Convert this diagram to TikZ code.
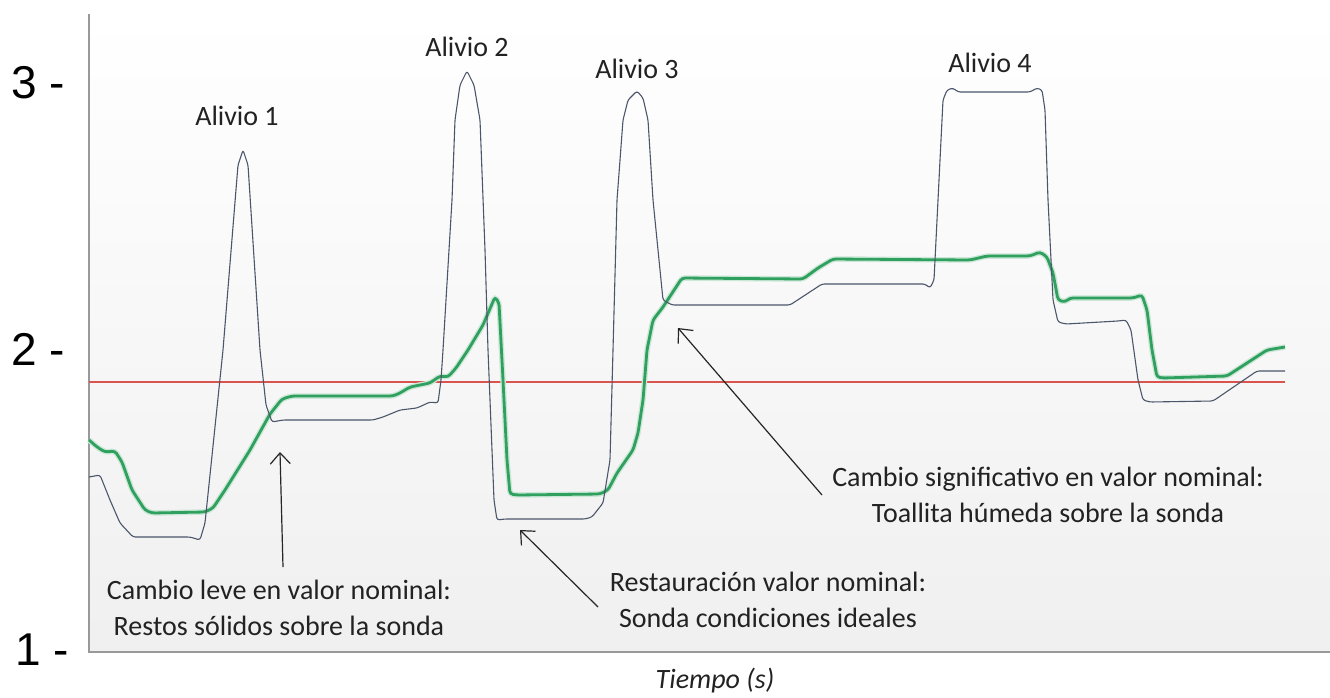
\documentclass[tikz,border=0pt]{standalone}
\usepackage{fontspec}
\setmainfont{Carlito}
\newfontfamily\ejefont{Liberation Sans}
\usetikzlibrary{arrows.meta}

\definecolor{grislinea}{HTML}{4C566A}
\definecolor{verdelinea}{HTML}{30A05E}
\definecolor{rojolinea}{HTML}{D9534F}
\definecolor{textogris}{HTML}{222222}

\tikzset{
  sensor/.style={grislinea, line width=1.1pt, rounded corners=2.5pt},
  filtrado/.style={verdelinea, line width=2.8pt, rounded corners=3pt},
  halo/.style={verdelinea!25, line width=5.5pt, rounded corners=3pt},
  flecha/.style={black!85, line width=1.2pt, -{Straight Barb[length=11pt,width=20pt,line width=1.2pt]}},
  etiqueta/.style={text=textogris, font=\fontsize{28}{36}\selectfont, align=center, inner sep=0pt},
  eje/.style={font=\ejefont\fontsize{46}{46}\selectfont, inner sep=0pt}
}

\begin{document}
\begin{tikzpicture}[x=1pt, y=-1pt]
    \useasboundingbox (0,0) rectangle (1330,697);
    % fondo del grafico
    \shade[top color=white, bottom color=black!6, middle color=white!97!black] (89,14) rectangle (1330,652);
    \draw[black!40, line width=1.2pt] (89,14) -- (89,652) -- (1330,652);

    % umbral
    \draw[rojolinea, line width=1.3pt] (89,382) -- (1285,382);

    % senal filtrada
    \foreach \estilo in {halo, filtrado}
      \draw[\estilo] (89,440) -- (97,447) -- (105,452) -- (115,451) -- (122,462) -- (132,490) -- (145,510) -- (152,513)
        -- (205,512) -- (213,508) -- (225,490) -- (250,450) -- (270,414) -- (282,399) -- (292,396)
        -- (393,396) -- (400,393) -- (410,387) -- (420,385) -- (430,383) -- (440,376) -- (448,377) -- (456,368)
        -- (468,350) -- (483,325) -- (495,297) -- (499,303) -- (503,380) -- (507,460) -- (510,494) -- (517,495)
        -- (600,494) -- (608,490) -- (617,473) -- (633,450) -- (638,433) -- (643,400) -- (647,350) -- (653,320)
        -- (663,307) -- (682,278) -- (803,279) -- (818,268) -- (833,259)
        -- (970,260) -- (987,256) -- (1030,256) -- (1040,252) -- (1047,257) -- (1053,273) -- (1058,300) -- (1065,302)
        -- (1070,298) -- (1133,298) -- (1142,295) -- (1147,310) -- (1152,350) -- (1157,377) -- (1163,378)
        -- (1227,376) -- (1267,350) -- (1285,347);

    % senal del sensor
    \draw[sensor] (89,477) -- (100,475) -- (110,500) -- (120,523) -- (133,537) -- (190,537) -- (200,540) -- (205,523)
        -- (223,350) -- (238,165) -- (243,150) -- (248,165) -- (260,350) -- (266,405) -- (272,422) -- (283,420)
        -- (373,420) -- (383,417) -- (400,410) -- (417,408) -- (430,402) -- (438,403) -- (441,380) -- (443,350)
        -- (452,200) -- (455,120) -- (460,85) -- (467,71) -- (474,85) -- (480,120) -- (485,250) -- (488,350)
        -- (494,500) -- (497,520) -- (505,519) -- (585,519) -- (592,517) -- (603,503) -- (610,460) -- (613,350)
        -- (617,200) -- (623,120) -- (628,100) -- (637,91) -- (643,98) -- (648,120) -- (653,200) -- (663,300)
        -- (672,305) -- (790,305) -- (822,284) -- (925,284) -- (930,288) -- (934,280) -- (938,200) -- (943,100)
        -- (947,90) -- (953,88) -- (958,92) -- (1030,92) -- (1037,88) -- (1042,90) -- (1045,110) -- (1048,200)
        -- (1053,300) -- (1058,322) -- (1066,324) -- (1118,321) -- (1126,320) -- (1131,330) -- (1138,380)
        -- (1143,400) -- (1150,402) -- (1213,401) -- (1257,371) -- (1285,371);

    % ejes
    \node[eje] (tres) at (38,83) {3 -};
    \node[eje] (dos) at (38,349) {2 -};
    \node[eje] (uno) at (42,650) {1 -};
    \node[etiqueta, font=\itshape\fontsize{28}{36}\selectfont] (tiempo) at (715,681) {Tiempo (s)};

    % alivios
    \node[etiqueta] (alivio1) at (237,116) {Alivio 1};
    \node[etiqueta] (alivio2) at (467,47) {Alivio 2};
    \node[etiqueta] (alivio3) at (637,69) {Alivio 3};
    \node[etiqueta] (alivio4) at (990,63) {Alivio 4};

    % anotaciones
    \node[etiqueta] (leve) at (279,608) {Cambio leve en valor nominal:\\Restos sólidos sobre la sonda};
    \node[etiqueta] (restaura) at (768,600) {Restauración valor nominal:\\Sonda condiciones ideales};
    \node[etiqueta] (signif) at (1048,495) {Cambio significativo en valor nominal:\\Toallita húmeda sobre la sonda};

    \coordinate (leveA) at (283,567);
    \coordinate (leveB) at (280,452);
    \coordinate (restauraA) at (598,607);
    \coordinate (restauraB) at (520,530);
    \coordinate (signifA) at (822,495);
    \coordinate (signifB) at (678,328);
    \draw[flecha] (leveA) -- (leveB);
    \draw[flecha] (restauraA) -- (restauraB);
    \draw[flecha] (signifA) -- (signifB);
\end{tikzpicture}
\end{document}
